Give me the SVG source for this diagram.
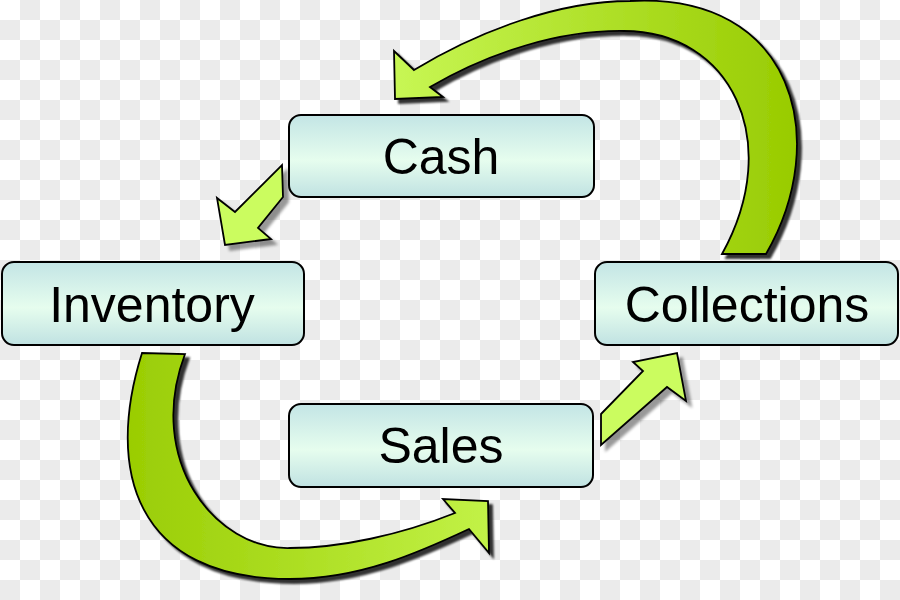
<svg xmlns="http://www.w3.org/2000/svg" width="900" height="600" viewBox="0 0 900 600">
<defs>
<pattern id="checker" width="40" height="40" patternUnits="userSpaceOnUse">
<rect width="40" height="40" fill="#ffffff"/>
<rect x="20" y="0" width="20" height="20" fill="#ebebeb"/>
<rect x="0" y="20" width="20" height="20" fill="#ebebeb"/>
</pattern>
<linearGradient id="boxGrad" x1="0" y1="0" x2="0" y2="1">
<stop offset="0" stop-color="#c3e5e5"/>
<stop offset="0.55" stop-color="#e6fdee"/>
<stop offset="1" stop-color="#c0e2e2"/>
</linearGradient>
<linearGradient id="topGrad" x1="390" y1="0" x2="800" y2="0" gradientUnits="userSpaceOnUse">
<stop offset="0" stop-color="#c8f755"/>
<stop offset="1" stop-color="#98cb00"/>
</linearGradient>
<linearGradient id="botGrad" x1="110" y1="0" x2="490" y2="0" gradientUnits="userSpaceOnUse">
<stop offset="0" stop-color="#98cb00"/>
<stop offset="1" stop-color="#c2f247"/>
</linearGradient>
<filter id="shDark" x="-10%" y="-10%" width="130%" height="130%">
<feGaussianBlur in="SourceAlpha" stdDeviation="1.2"/>
<feOffset dx="4" dy="4"/>
<feComponentTransfer><feFuncA type="linear" slope="0.8"/></feComponentTransfer>
<feMerge><feMergeNode/><feMergeNode in="SourceGraphic"/></feMerge>
</filter>
<filter id="shLight" x="-20%" y="-20%" width="150%" height="150%">
<feGaussianBlur in="SourceAlpha" stdDeviation="1.5"/>
<feOffset dx="5" dy="5"/>
<feComponentTransfer><feFuncA type="linear" slope="0.4"/></feComponentTransfer>
<feMerge><feMergeNode/><feMergeNode in="SourceGraphic"/></feMerge>
</filter>
</defs>
<style>
.box { fill: url(#boxGrad); stroke: #000; stroke-width: 2; }
.lbl { font-family: "Liberation Sans", Arial, sans-serif; font-size: 50px; fill: #000; text-anchor: middle; }
.arr { stroke: #000; stroke-width: 1.8; stroke-linejoin: miter; }
.small { fill: #cbfc5e; filter: url(#shLight); }
</style>
<rect width="900" height="600" fill="url(#checker)"/>
<g id="connectors">
<path id="collections-cash" class="arr" fill="url(#topGrad)" filter="url(#shDark)" d="M766,254 C832,140 795,-8 630,1 C560,1 480,30 414,70 L394,51 L395,99 L443,97 L430,87 C490,52 560,30 624,31 C730,31 785,140 722,254 Z"/>
<path id="cash-inventory" class="arr small" d="M282,165 L283,197 L258,228 L271,239 L225,245 L217,198 L235,212 Z"/>
<path id="inventory-sales" class="arr" fill="url(#botGrad)" filter="url(#shDark)" d="M142,353 C105,470 135,579 290,579 C360,579 420,552 469,529 L489,553 L488,501 L443,499 L455,513 C400,535 340,548 290,548 C215,550 145,460 185,354 Z"/>
<path id="sales-collections" class="arr small" d="M601,414 L643,371 L633,362 L677,353 L686,401 L667,387 L601,445 Z"/>
</g>
<g id="cash">
<rect class="box" x="289" y="115" width="305" height="82" rx="12"/>
<text class="lbl" x="441" y="174">Cash</text>
</g>
<g id="inventory">
<rect class="box" x="2" y="262" width="302" height="83" rx="12"/>
<text class="lbl" x="152" y="322">Inventory</text>
</g>
<g id="sales">
<rect class="box" x="289" y="404" width="304" height="83" rx="12"/>
<text class="lbl" x="441" y="463">Sales</text>
</g>
<g id="collections">
<rect class="box" x="595" y="262" width="303" height="83" rx="12"/>
<text class="lbl" x="747" y="322">Collections</text>
</g>
</svg>
